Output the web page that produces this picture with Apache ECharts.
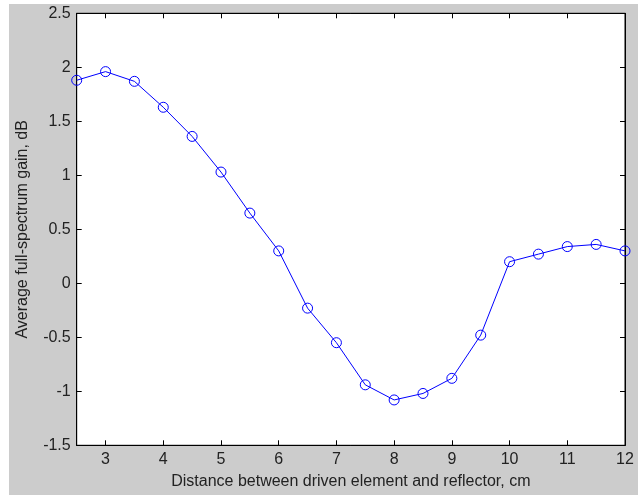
<!DOCTYPE html>
<html><head><meta charset="utf-8">
<script src="https://cdn.jsdelivr.net/npm/echarts@6/dist/echarts.min.js"></script>
<style>
html,body{margin:0;padding:0;background:#fff;}
#outer{position:relative;width:642px;height:500px;background:#fff;}
#chart{position:absolute;left:9px;top:4px;width:629px;height:491px;background:#cccccc;}
</style></head>
<body><div id="outer"><div id="chart"></div></div>
<script>
const distances = [2.5,3,3.5,4,4.5,5,5.5,6,6.5,7,7.5,8,8.5,9,9.5,10,10.5,11,11.5,12];
const gains = [1.88,1.96,1.87,1.63,1.36,1.03,0.65,0.30,-0.23,-0.55,-0.94,-1.08,-1.02,-0.88,-0.48,0.20,0.27,0.34,0.36,0.30];
const xTicks = [3,4,5,6,7,8,9,10,11,12];
const xLabel = 'Distance between driven element and reflector, cm';
const yLabel = 'Average full-spectrum gain, dB';

const chart = echarts.init(document.getElementById('chart'));
const font = 'Liberation Sans, Arial, sans-serif';
const axisLineStyle = {color:'#000', width:1};
chart.setOption({
  animation:false,
  backgroundColor:'#cccccc',
  grid:{left:67.7, top:9.3, right:13, bottom:49.7, outerBoundsMode:'none', containLabel:false, show:true, backgroundColor:'#ffffff', borderColor:'#000', borderWidth:1},
  xAxis:[{
    type:'value', min:2.5, max:12, position:'bottom',
    axisLine:{show:true, onZero:false, lineStyle:axisLineStyle},
    axisTick:{show:true, inside:true, length:5, customValues:xTicks, lineStyle:axisLineStyle},
    axisLabel:{customValues:xTicks, color:'#222', fontFamily:font, fontSize:16, margin:6},
    splitLine:{show:false},
    name:xLabel, nameLocation:'middle', nameGap:28,
    nameTextStyle:{color:'#222', fontFamily:font, fontSize:16}
  },{
    type:'value', min:2.5, max:12, position:'top',
    axisLine:{show:true, onZero:false, lineStyle:axisLineStyle},
    axisTick:{show:true, inside:true, length:5, customValues:xTicks, lineStyle:axisLineStyle},
    axisLabel:{show:false, customValues:xTicks},
    splitLine:{show:false}
  }],
  yAxis:[{
    type:'value', min:-1.5, max:2.5, interval:0.5, position:'left',
    axisLine:{show:true, onZero:false, lineStyle:axisLineStyle},
    axisTick:{show:true, inside:true, length:5, lineStyle:axisLineStyle},
    axisLabel:{color:'#222', fontFamily:font, fontSize:16, margin:6},
    splitLine:{show:false},
    name:yLabel, nameLocation:'middle', nameGap:46, nameRotate:90,
    nameTextStyle:{color:'#222', fontFamily:font, fontSize:16}
  },{
    type:'value', min:-1.5, max:2.5, interval:0.5, position:'right',
    axisLine:{show:true, onZero:false, lineStyle:axisLineStyle},
    axisTick:{show:true, inside:true, length:5, lineStyle:axisLineStyle},
    axisLabel:{show:false},
    splitLine:{show:false}
  }],
  series:[{
    type:'line',
    data:distances.map((d,i)=>[d,gains[i]]),
    symbol:'circle', symbolSize:10,
    itemStyle:{color:'rgba(0,0,0,0)', borderColor:'#0000ff', borderWidth:1},
    lineStyle:{color:'#0000ff', width:1},
    clip:false
  }]
});
</script></body></html>
